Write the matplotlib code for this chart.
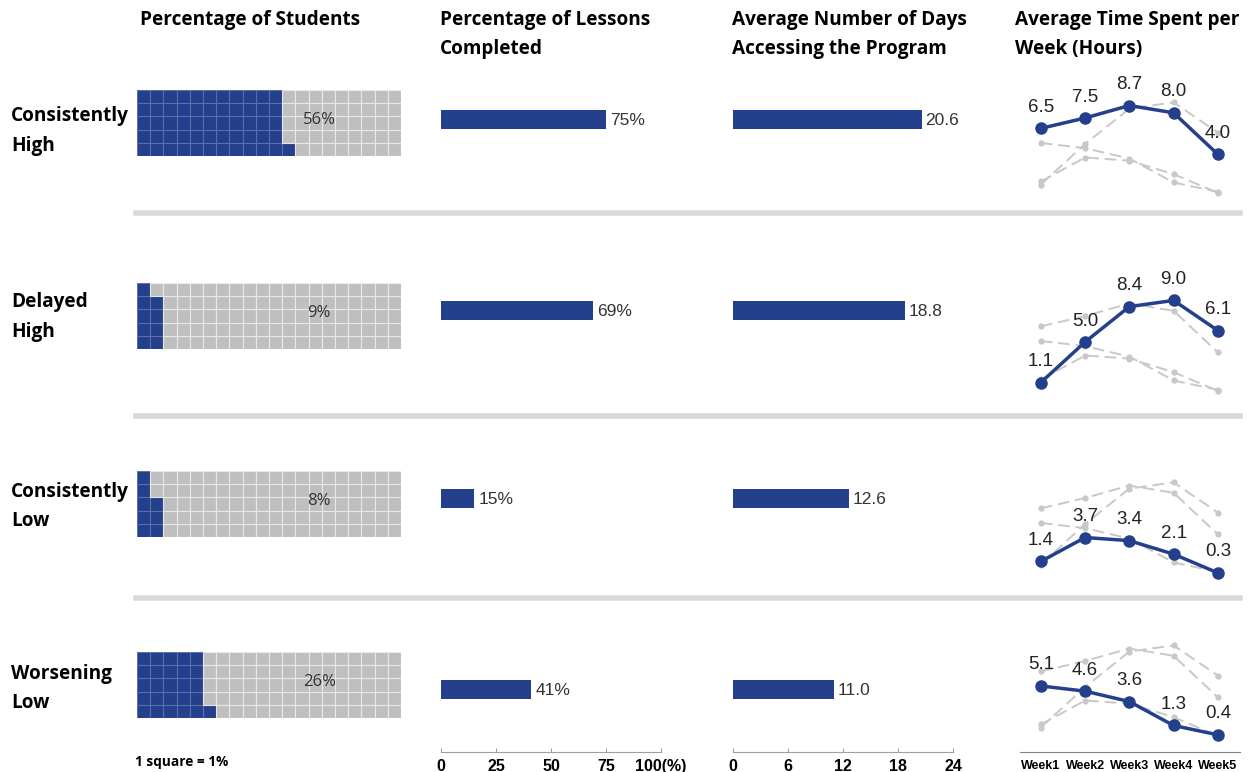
import matplotlib
matplotlib.use("Agg")
import matplotlib.pyplot as plt
from matplotlib.patches import Rectangle
from matplotlib.lines import Line2D

# data
groups = ["Consistently\nHigh", "Delayed\nHigh", "Consistently\nLow", "Worsening\nLow"]
pct_students = [56, 9, 8, 26]
pct_lessons = [75, 69, 15, 41]
avg_days = [20.6, 18.8, 12.6, 11.0]
weeks = ["Week1", "Week2", "Week3", "Week4", "Week5"]
hours = [
    [6.5, 7.5, 8.7, 8.0, 4.0],
    [1.1, 5.0, 8.4, 9.0, 6.1],
    [1.4, 3.7, 3.4, 2.1, 0.3],
    [5.1, 4.6, 3.6, 1.3, 0.4],
]
lesson_ticks = [0, 25, 50, 75, 100]
lesson_ticklabels = ["0", "25", "50", "75", "100(%)"]
day_ticks = [0, 6, 12, 18, 24]

BLUE = "#243f8b"
GRAY = "#bfbfbf"
W, H = 1256, 772

fig = plt.figure(figsize=(W / 100, H / 100), dpi=100)
HEAD = ["Open Sans", "DejaVu Sans"]
NARROW = ["Liberation Sans Narrow", "Liberation Sans", "DejaVu Sans"]
ARIAL = ["Liberation Sans", "DejaVu Sans"]
HSIZE = 13.7


def px_axes(x0, y0, x1, y1):
    # pixel box (top-left origin) -> axes
    return fig.add_axes([x0 / W, 1 - y1 / H, (x1 - x0) / W, (y1 - y0) / H])


def fx(x):
    return x / W


def fy(y):
    return 1 - y / H


# headers
fig.text(fx(140), fy(20), "Percentage of Students", fontsize=HSIZE, fontweight="bold",
         family=HEAD, va="center")
fig.text(fx(440), fy(34.5), "Percentage of Lessons\nCompleted", fontsize=HSIZE,
         fontweight="bold", family=HEAD, va="center", linespacing=1.55)
fig.text(fx(732), fy(34.5), "Average Number of Days\nAccessing the Program", fontsize=HSIZE,
         fontweight="bold", family=HEAD, va="center", linespacing=1.55)
fig.text(fx(1015), fy(34.5), "Average Time Spent per\nWeek (Hours)", fontsize=HSIZE,
         fontweight="bold", family=HEAD, va="center", linespacing=1.55)

row_top = [90, 283, 471, 652]
row_bar = [119, 310, 498, 689]
row_label_y = [131, 317, 506, 688]
row_zero = [196, 394, 576, 739]
sep_y = [213, 416, 598]

for y in sep_y:
    fig.add_artist(Line2D([fx(136), fx(1240)], [fy(y), fy(y)], color="#d9d9d9", lw=4,
                          transform=fig.transFigure))

for i, g in enumerate(groups):
    fig.text(fx(11), fy(row_label_y[i]), g, fontsize=HSIZE, fontweight="bold", family=HEAD,
             va="center", linespacing=1.6)

    # waffle
    ax = px_axes(137, row_top[i], 401, row_top[i] + 66)
    ax.set_xlim(0, 20)
    ax.set_ylim(0, 5)
    ax.axis("off")
    for c in range(20):
        for r in range(5):
            k = c * 5 + r
            col = BLUE if k < pct_students[i] else GRAY
            ax.add_patch(Rectangle((c, r), 1, 1, facecolor=col,
                                   edgecolor="#e8e8e8" if col == GRAY else "#5a6fae", lw=0.8))
    ax.text(13.8, 2.75, f"{pct_students[i]}%", fontsize=12, color="#333333", ha="center",
            va="center", family=HEAD)

# lessons bars
axl = px_axes(441, 70, 661, 752)
axl.barh(row_bar, pct_lessons, height=19, color=BLUE)
axl.set_xlim(0, 100)
axl.set_ylim(752, 70)
for y, v in zip(row_bar, pct_lessons):
    axl.text(v + 2, y + 1, f"{v}%", va="center", fontsize=12.5, color="#333333", family=ARIAL)

# days bars
axd = px_axes(733, 70, 953, 752)
axd.barh(row_bar, avg_days, height=19, color=BLUE)
axd.set_xlim(0, 24)
axd.set_ylim(752, 70)
for y, v in zip(row_bar, avg_days):
    axd.text(v + 0.4, y + 1, f"{v:.1f}", va="center", fontsize=12.5, color="#333333", family=ARIAL)

for ax, ticks, labels in [(axl, lesson_ticks, lesson_ticklabels),
                          (axd, day_ticks, [str(t) for t in day_ticks])]:
    for s in ["top", "right", "left"]:
        ax.spines[s].set_visible(False)
    ax.spines["bottom"].set_color("#a0a0a0")
    ax.set_yticks([])
    ax.set_xticks(ticks)
    ax.set_xticklabels(labels, fontweight="bold", family=NARROW, fontsize=11.5)
    ax.tick_params(axis="x", direction="in", length=3, color="#a0a0a0", pad=5)
    ax.set_facecolor("none")

fig.text(fx(135), fy(762), "1 square = 1%", fontsize=9.8, fontweight="bold", family=HEAD,
         va="center")

# line charts
xs = list(range(len(weeks)))
for i in range(len(groups)):
    z = row_zero[i]
    bottom = 752 if i == 3 else z + 13
    top = z - 10.4 * 10
    ax = px_axes(1020, top, 1240, bottom)
    ax.set_xlim(-0.47, 4.5)
    ax.set_ylim(-(bottom - z) / 10.4, 10)
    ax.set_facecolor("none")
    for j, series in enumerate(hours):
        if j != i:
            ax.plot(xs, series, color="#c8c8c8", ls=(0, (6, 3)), lw=1.4, marker="o", ms=3.5,
                    zorder=1)
    ax.plot(xs, hours[i], color=BLUE, lw=2.5, marker="o", ms=8, zorder=3)
    for x, v in zip(xs, hours[i]):
        ax.annotate(f"{v:.1f}", (x, v), xytext=(0, 9), textcoords="offset points",
                    ha="center", va="bottom", fontsize=13.5, color="#222222", family=ARIAL)
    for s in ["top", "right", "left"]:
        ax.spines[s].set_visible(False)
    ax.set_yticks([])
    if i == 3:
        ax.spines["bottom"].set_color("#808080")
        ax.set_xticks(xs)
        ax.set_xticklabels(weeks, fontweight="bold", family=NARROW, fontsize=9)
        ax.tick_params(axis="x", length=0, pad=6)
    else:
        ax.spines["bottom"].set_visible(False)
        ax.set_xticks([])

fig.savefig("out.png", dpi=100)
